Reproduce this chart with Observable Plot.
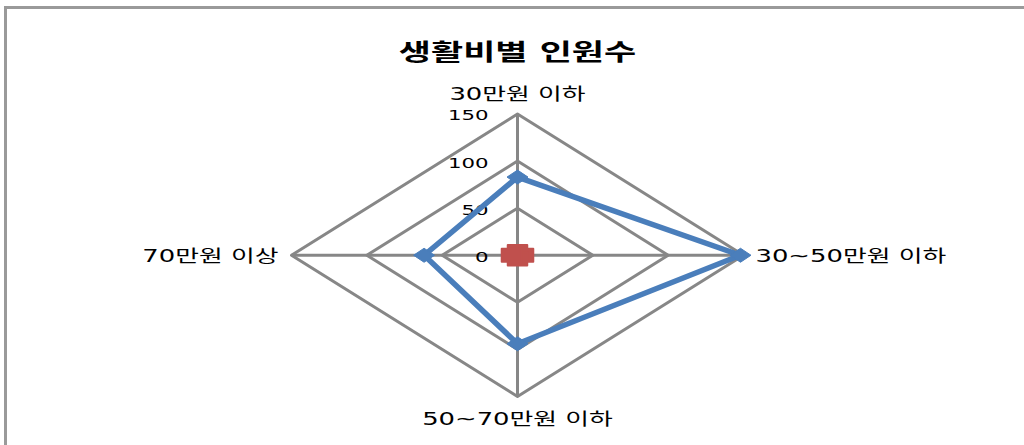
<!DOCTYPE html>
<html>
<head>
<meta charset="utf-8">
<script src="https://cdn.jsdelivr.net/npm/d3@7"></script>
<script src="https://cdn.jsdelivr.net/npm/@observablehq/plot@0.6"></script>
<style>
  html, body { margin: 0; padding: 0; background: #fff; }
  #wrap { position: relative; width: 1024px; height: 445px; overflow: hidden; }
  #frame { position: absolute; left: 4px; top: 6px; width: 1100px; height: 500px;
           border-left: 3px solid #9a9a9a; border-top: 3px solid #9a9a9a; pointer-events: none; }
  svg { display: block; }
</style>
</head>
<body>
<div id="wrap"><div id="frame"></div></div>
<script>
const title = "생활비별 인원수";
const categories = ["30만원 이하", "30~50만원 이하", "50~70만원 이하", "70만원 이상"];
const seriesCount = [83, 148, 94, 62];   // blue series
const seriesOther = [4, 4, 4, 4];        // red series (near zero)
const ticks = [0, 50, 100, 150];
const maxValue = 150;

const n = categories.length;
const ang = i => (i / n) * 2 * Math.PI;
const pt = (v, i) => ({x: v * Math.sin(ang(i)), y: v * Math.cos(ang(i))});

const blue = seriesCount.map((v, i) => ({cat: categories[i], value: v, ...pt(v, i)}));
const red = seriesOther.map((v, i) => ({cat: categories[i], value: v, ...pt(v, i)}));
const rings = ticks.filter(t => t > 0).flatMap(t => categories.map((c, i) => ({ring: t, ...pt(t, i)})));
const spokes = categories.map((c, i) => ({cat: c, ...pt(maxValue, i)}));
const labels = categories.map((c, i) => ({cat: c, i, ...pt(maxValue, i)}));

const diamond = {
  draw(ctx, size) {
    const r = Math.sqrt(size / Math.PI);
    ctx.moveTo(0, -r); ctx.lineTo(1.5 * r, 0); ctx.lineTo(0, r); ctx.lineTo(-1.5 * r, 0); ctx.closePath();
  }
};
const wideSquare = {
  draw(ctx, size) {
    const r = Math.sqrt(size / Math.PI);
    ctx.rect(-1.5 * r, -r, 3 * r, 2 * r);
  }
};

const gridColor = "#878787";
const blueColor = "#4A7EBB";
const redColor = "#C0504D";
const catFont = 17;

const chart = Plot.plot({
  width: 1024,
  height: 445,
  marginLeft: 291,
  marginRight: 281,
  marginTop: 113.5,
  marginBottom: 49,
  x: {domain: [-maxValue, maxValue], axis: null},
  y: {domain: [-maxValue, maxValue], axis: null},
  style: {fontFamily: "'DejaVu Sans','Noto Sans CJK KR',sans-serif", color: "#000", background: "transparent"},
  marks: [
    Plot.line(rings, {x: "x", y: "y", z: "ring", curve: "linear-closed", stroke: gridColor, strokeWidth: 3}),
    Plot.link(spokes, {x1: d => 0, y1: d => 0, x2: "x", y2: "y", stroke: gridColor, strokeWidth: 3}),
    Plot.text(ticks, {x: d => 0, y: d => d, text: d => String(d), textAnchor: "end", dx: -29, dy: 2, fontSize: 14, fill: "#000"}),
    Plot.line(blue, {x: "x", y: "y", curve: "linear-closed", stroke: blueColor, strokeWidth: 5.5, strokeLinejoin: "round"}),
    Plot.dot(blue, {x: "x", y: "y", symbol: diamond, r: 7, fill: blueColor, stroke: blueColor, strokeWidth: 1}),
    Plot.line(red, {x: "x", y: "y", curve: "linear-closed", stroke: redColor, strokeWidth: 5, strokeLinejoin: "round"}),
    Plot.dot(red, {x: "x", y: "y", symbol: wideSquare, r: 6.5, fill: redColor, stroke: redColor, strokeWidth: 2, strokeLinejoin: "round"}),
    Plot.text(labels.filter(d => d.i === 0), {x: "x", y: "y", text: "cat", dy: -19, fontSize: catFont, fill: "#000"}),
    Plot.text(labels.filter(d => d.i === 1), {x: "x", y: "y", text: "cat", textAnchor: "start", dx: 12, dy: 1.5, fontSize: catFont, fill: "#000"}),
    Plot.text(labels.filter(d => d.i === 2), {x: "x", y: "y", text: "cat", dy: 23.5, fontSize: catFont, fill: "#000"}),
    Plot.text(labels.filter(d => d.i === 3), {x: "x", y: "y", text: "cat", textAnchor: "end", dx: -13, dy: 1.5, fontSize: catFont, fill: "#000"}),
    Plot.text([title], {frameAnchor: "top", dy: -70, fontSize: 23, fontWeight: "bold", fill: "#000"})
  ]
});

const wrap = document.getElementById("wrap");
wrap.insertBefore(chart, wrap.firstChild);

// The reference image is horizontally stretched: widen the glyphs to match.
d3.select(chart).selectAll("text").each(function() {
  const L = this.getComputedTextLength();
  if (L > 0) {
    this.setAttribute("textLength", (L * 1.52).toFixed(1));
    this.setAttribute("lengthAdjust", "spacingAndGlyphs");
  }
});
</script>
</body>
</html>
